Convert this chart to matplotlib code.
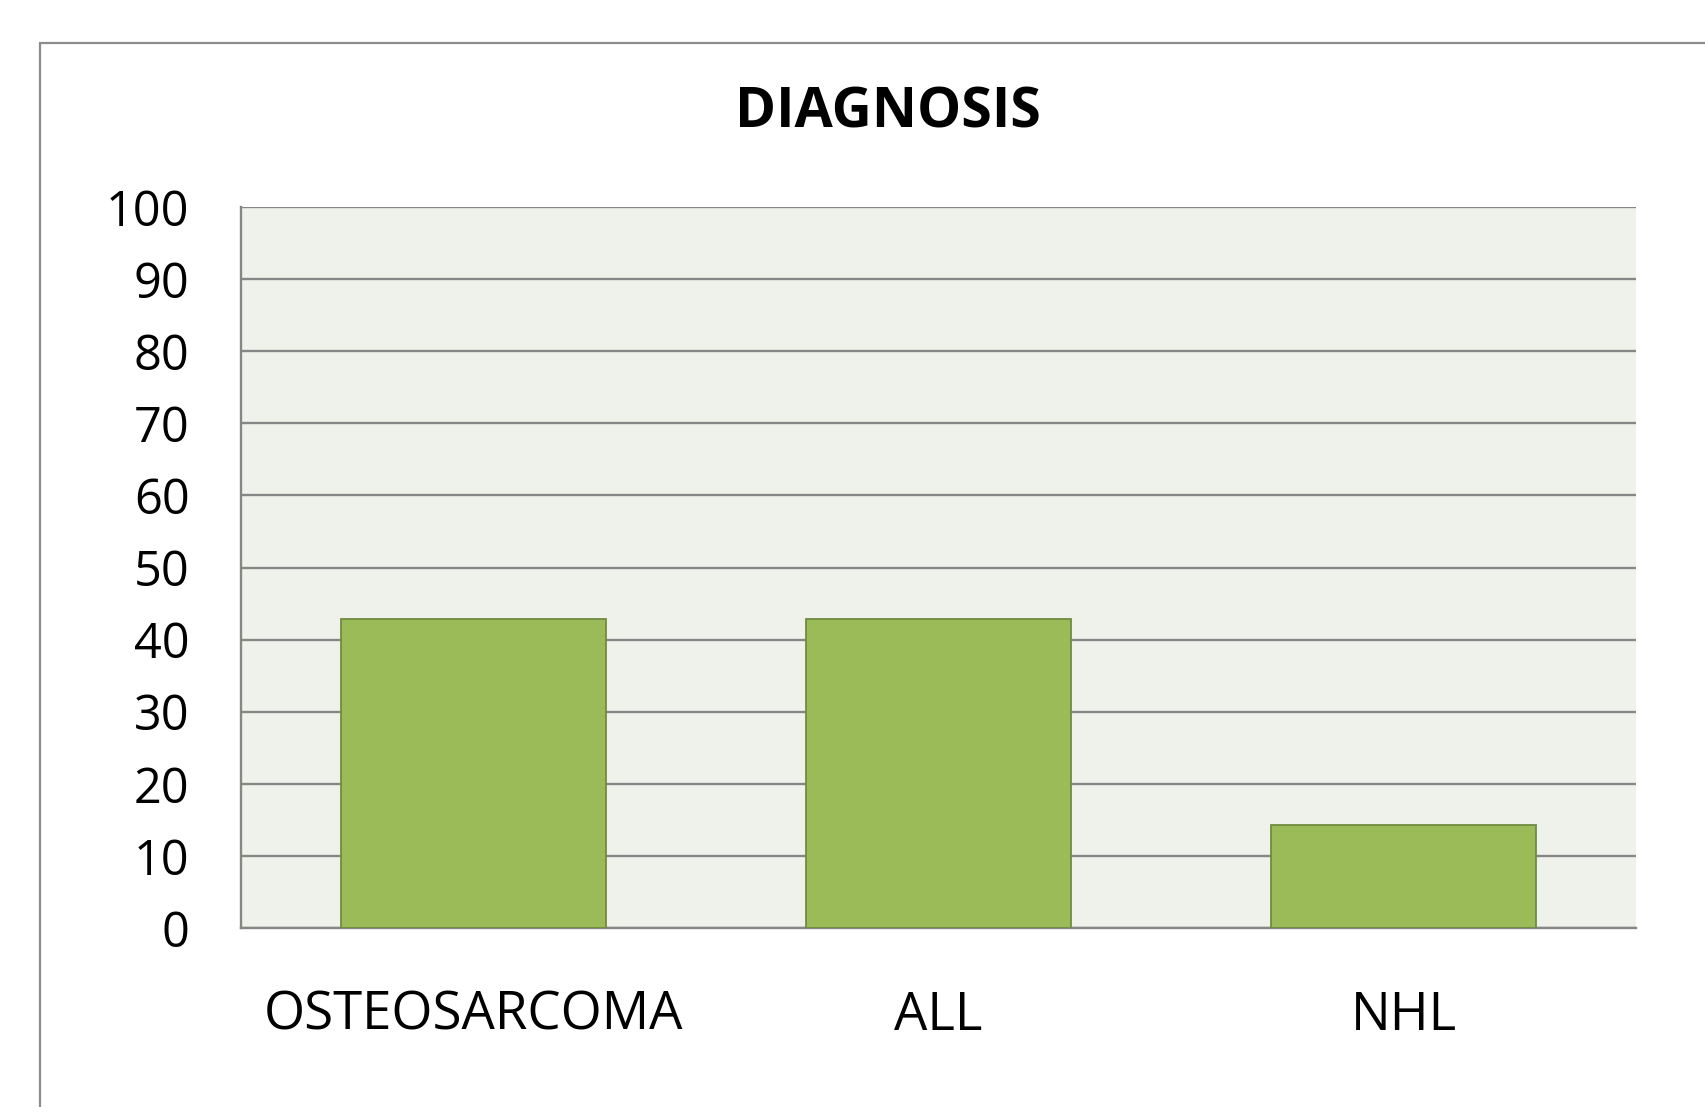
import matplotlib
matplotlib.use("Agg")
import matplotlib.pyplot as plt
from matplotlib.patches import Rectangle

categories = ["OSTEOSARCOMA", "ALL", "NHL"]
values = [42.86, 42.86, 14.29]
yticks = [0, 10, 20, 30, 40, 50, 60, 70, 80, 90, 100]
title = "DIAGNOSIS"

W, H = 1705, 1107
fig = plt.figure(figsize=(W / 100, H / 100), dpi=100)
fig.patch.set_facecolor("white")

# outer chart border (extends beyond right/bottom edge)
fig.add_artist(Rectangle((40 / W, -0.1), 1.2, (1107 - 43) / H + 0.1,
                         transform=fig.transFigure, fill=False,
                         edgecolor="#8c8c8c", linewidth=1.6))

ax = fig.add_axes([241 / W, (H - 928) / H, (1636 - 241) / W, (928 - 207) / H])
ax.set_facecolor("#eff2ea")
x = list(range(len(categories)))
ax.bar(x, values, width=0.572, color="#9bbb59", edgecolor="#728b40",
       linewidth=1.3, zorder=3)
ax.set_xlim(-0.5, 2.5)
ax.set_ylim(0, 100)
ax.set_yticks(yticks)
ax.set_yticklabels([str(v) for v in yticks])
ax.set_xticks(x)
ax.set_xticklabels(categories)
ax.yaxis.grid(True, color="#868686", linewidth=1.7, zorder=1)
ax.set_axisbelow(True)
for s in ["top", "right"]:
    ax.spines[s].set_visible(False)
for s in ["left", "bottom"]:
    ax.spines[s].set_color("#868686")
    ax.spines[s].set_linewidth(1.7)
ax.tick_params(axis="both", length=0)
ax.tick_params(axis="y", pad=37)
ax.tick_params(axis="x", pad=44)
for lab in ax.get_yticklabels():
    lab.set_fontfamily("Open Sans")
    lab.set_fontsize(35)
    lab.set_color("black")
for lab in ax.get_xticklabels():
    lab.set_fontfamily("Open Sans")
    lab.set_fontsize(38)
    lab.set_color("black")

fig.text(888 / W, 1 - 113 / H, title, ha="center", va="center",
         fontsize=40, fontweight="bold", fontfamily="Open Sans")

fig.savefig("out.png", dpi=100)
